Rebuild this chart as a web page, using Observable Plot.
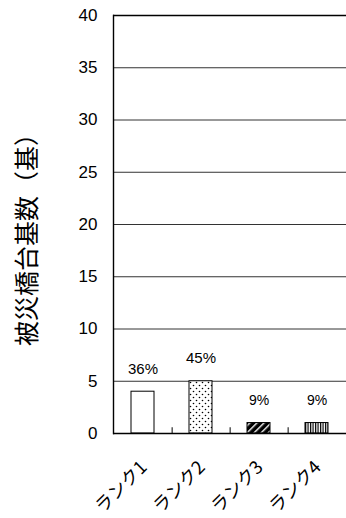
<!DOCTYPE html>
<html>
<head>
<meta charset="utf-8">
<script src="https://cdn.jsdelivr.net/npm/d3@7"></script>
<script src="https://cdn.jsdelivr.net/npm/@observablehq/plot@0.6"></script>
<style>
  html, body { margin: 0; padding: 0; background: #fff; }
  #chart svg { display: block; }
</style>
</head>
<body>
<div id="chart"></div>
<script>
// ---- data ----
const ranks = ["ランク1", "ランク2", "ランク3", "ランク4"];
const counts = [4, 5, 1, 1];
const percentLabels = ["36%", "45%", "9%", "9%"];
const yTicks = [0, 5, 10, 15, 20, 25, 30, 35, 40];
const yTitle = "被災橋台基数（基）";

// ---- styles ----
const patternFill = {
  "ランク1": "white",
  "ランク2": "url(#pat-dots)",
  "ランク3": "url(#pat-diag)",
  "ランク4": "url(#pat-vert)"
};

const rows = ranks.map((r, i) => ({rank: r, count: counts[i], pct: percentLabels[i]}));

const W = 346, H = 518;
const mL = 113, mR = 0, mT = 15, mB = 85;
const step = (W - mL - mR) / ranks.length;

const svg = Plot.plot({
  width: W,
  height: H,
  marginLeft: mL,
  marginRight: mR,
  marginTop: mT,
  marginBottom: mB,
  style: {fontFamily: "'Liberation Sans', Arial, sans-serif", background: "white"},
  x: {domain: ranks, paddingInner: 0.6, paddingOuter: 0.3, axis: null},
  y: {domain: [0, 40], axis: null},
  color: {type: "identity"},
  marks: [
    Plot.gridY(yTicks.filter(t => t > 0 && t < 40), {stroke: "#333", strokeOpacity: 1}),
    Plot.ruleY([40], {stroke: "black", strokeWidth: 1.4}),
    Plot.barY(rows, {x: "rank", y: "count", fill: d => patternFill[d.rank], stroke: "black", strokeWidth: 1}),
    Plot.ruleX(rows.slice(0, 3), {x: "rank", y1: 0, y2: 0.55, dx: step / 2, stroke: "black"}),
    Plot.ruleY([0], {stroke: "black", strokeWidth: 1.4}),
    Plot.frame({anchor: "left", stroke: "black", strokeWidth: 1.4}),
    Plot.axisY(yTicks, {tickSize: 0, tickPadding: 16, fontSize: 17, fill: "black", label: null}),
    Plot.text(rows, {x: "rank", y: "count", text: "pct", dy: -23, fontSize: d => d.pct.length > 2 ? 15 : 14, fill: "black"}),
    Plot.text(rows, {x: "rank", text: "rank", frameAnchor: "bottom", dy: 35, dx: 5, rotate: -45, textAnchor: "end",
      fontSize: 18, fontFamily: "'Noto Sans CJK JP', sans-serif", fill: "black"}),
    Plot.text([yTitle], {text: d => d, frameAnchor: "left", textAnchor: "middle", dx: -86, dy: 9, rotate: -90,
      fontSize: 25, fontFamily: "'Noto Sans CJK JP', sans-serif", fill: "black"})
  ]
});

const defs = document.createElementNS("http://www.w3.org/2000/svg", "defs");
defs.innerHTML = `
  <pattern id="pat-dots" patternUnits="userSpaceOnUse" width="6" height="6">
    <rect width="6" height="6" fill="white"/>
    <circle cx="1.5" cy="1.5" r="0.8" fill="black"/>
    <circle cx="4.5" cy="4.5" r="0.8" fill="black"/>
  </pattern>
  <pattern id="pat-diag" patternUnits="userSpaceOnUse" width="5" height="5" patternTransform="rotate(45)">
    <rect width="5" height="5" fill="black"/>
    <rect x="0" y="0" width="1.4" height="5" fill="white"/>
  </pattern>
  <pattern id="pat-vert" patternUnits="userSpaceOnUse" width="2.5" height="10">
    <rect width="2.5" height="10" fill="white"/>
    <rect x="0" y="0" width="1.2" height="10" fill="black"/>
  </pattern>`;
svg.insertBefore(defs, svg.firstChild);

document.getElementById("chart").appendChild(svg);
</script>
</body>
</html>
